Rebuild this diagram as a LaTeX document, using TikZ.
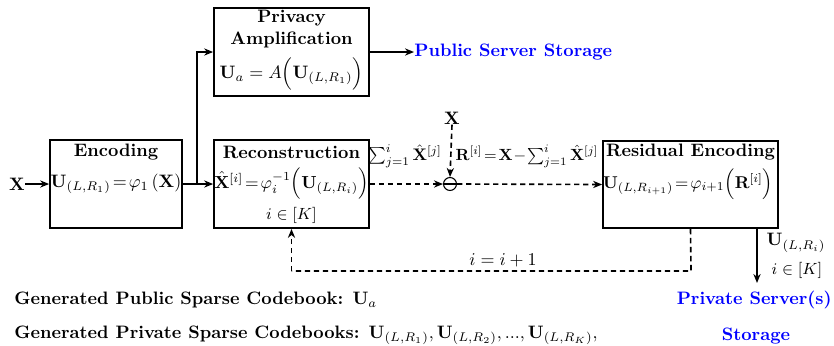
\documentclass[tikz,border=0pt]{standalone}
\usepackage{amsmath,amssymb}
\usetikzlibrary{arrows.meta}
\begin{document}
\begin{tikzpicture}[x=0.5556pt,y=-0.5556pt,
  box/.style={draw,line width=1pt,inner sep=0pt},
  lbl/.style={inner sep=0pt},
  ttl/.style={inner sep=0pt,font=\bfseries},
  arr/.style={line width=0.9pt,-{Stealth[length=5pt,width=4pt]}},
  darr/.style={line width=0.9pt,dash pattern=on 3pt off 2pt,-{Stealth[length=5pt,width=4pt]}},
  dln/.style={line width=0.9pt,dash pattern=on 3pt off 2pt},
  srv/.style={inner sep=0pt,font=\bfseries,text=blue}]
\useasboundingbox (0,0) rectangle (834,345);
% boxes
\node[box,minimum width=86.1pt,minimum height=48.9pt] (pa) at (291.5,52) {};
\node[box,minimum width=73.3pt,minimum height=48.9pt] (enc) at (116,184) {};
\node[box,minimum width=86.1pt,minimum height=48.9pt] (rec) at (291.5,184) {};
\node[box,minimum width=97.2pt,minimum height=48.3pt] (res) at (690.5,184.5) {};
% box texts
\node[ttl] (pat1) at (291.5,18) {Privacy};
\node[ttl] (pat2) at (291.5,40) {Amplification};
\node[lbl] (paf) at (291.5,74) {$\mathbf{U}_a=A\Big(\mathbf{U}_{(L,R_1)}\Big)$};
\node[ttl] (enct) at (116,152) {Encoding};
\node[lbl] (encf) at (116,184) {$\mathbf{U}_{(L,R_1)}\!=\!\varphi_1\left(\mathbf{X}\right)$};
\node[ttl] (rect) at (291.5,152) {Reconstruction};
\node[lbl,scale=0.97] (recf) at (291.5,184) {$\hat{\mathbf{X}}^{[i]}\!=\!\varphi_i^{-1}\Big(\mathbf{U}_{(L,R_i)}\Big)$};
\node[lbl,font=\small] (reck) at (291.5,215) {$i\in[K]$};
\node[ttl] (rest) at (690.5,152) {Residual Encoding};
\node[lbl,scale=0.95] (resf) at (688,184) {$\mathbf{U}_{(L,R_{i+1})}\!=\!\varphi_{i+1}\Big(\mathbf{R}^{[i]}\Big)$};
% input
\node[lbl] (x) at (17,184) {$\mathbf{X}$};
\draw[arr] (x.east) -- (enc.west);
\draw[arr] (enc.east) -- (rec.west);
\coordinate (br) at (197,184);
\draw[arr] (br) |- (pa.west);
% public storage
\node[srv,anchor=west] (pss) at (414,52) {Public Server Storage};
\draw[arr] (pa.east) -- (pss.west);
% subtraction
\node[draw,circle,line width=0.6pt,minimum size=7.2pt,inner sep=0pt] (sub) at (450,184) {};
\draw[line width=0.6pt] (sub.west) -- (sub.east);
\node[lbl] (xt) at (452,118) {$\mathbf{X}$};
\draw[darr] (xt.south) -- (sub.north);
\draw[darr] (rec.east) -- (sub.west);
\draw[darr] (sub.east) -- (res.west);
\node[lbl,scale=0.93] (suml) at (405,156) {$\sum_{j=1}^{i}\hat{\mathbf{X}}^{[j]}$};
\node[lbl,scale=0.9] (rl) at (527,156) {$\mathbf{R}^{[i]}\!=\!\mathbf{X}\!-\!\sum_{j=1}^{i}\hat{\mathbf{X}}^{[j]}$};
% private output
\coordinate (rs) at (757,228);
\coordinate (re) at (757,283);
\draw[arr] (rs) -- (re);
\node[lbl] (ul) at (796,243) {$\mathbf{U}_{(L,R_i)}$};
\node[lbl,font=\small] (uk) at (797,270) {$i\in[K]$};
\node[srv,anchor=east] (ps1) at (832,300) {Private Server(s)};
\node[srv] (ps2) at (756,336) {Storage};
% feedback
\coordinate (f1) at (691,271);
\coordinate (f2) at (291.5,271);
\draw[dln] (res.south) -- (f1) -- (f2);
\draw[darr] (f2) -- (rec.south);
\node[lbl] (inc) at (503,260) {$i=i+1$};
% bottom texts
\node[lbl,anchor=west,font=\bfseries] (g1) at (14,300) {Generated Public Sparse Codebook: $\mathbf{U}_a$};
\node[lbl,anchor=west,font=\bfseries] (g2) at (14,335) {Generated Private Sparse Codebooks: $\mathbf{U}_{(L,R_1)},\mathbf{U}_{(L,R_2)},...,\mathbf{U}_{(L,R_K)},$};
\end{tikzpicture}
\end{document}
